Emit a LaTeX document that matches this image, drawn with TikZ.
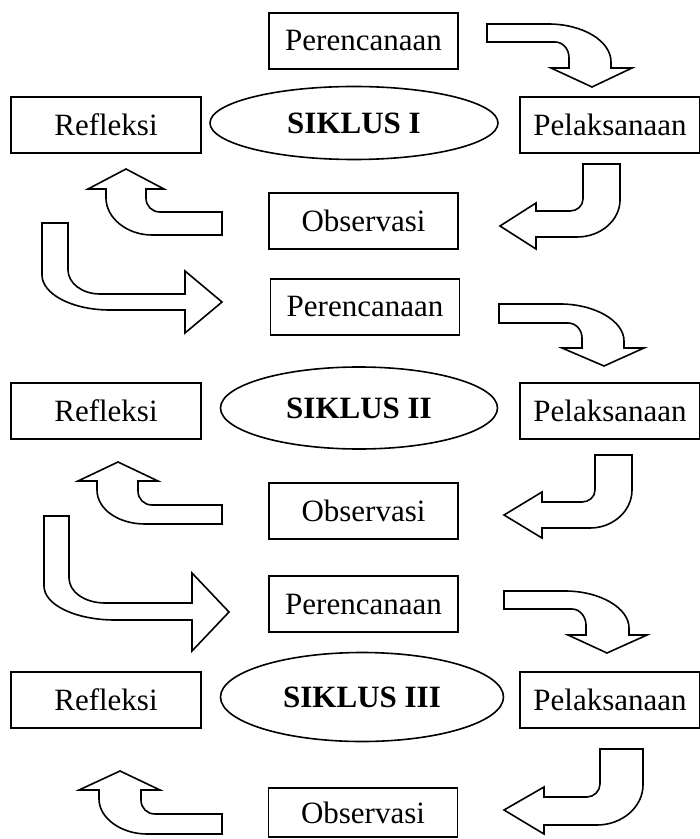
\documentclass[tikz,border=0pt]{standalone}
\usepackage{fontspec}
\setmainfont{Liberation Serif}
\usetikzlibrary{
    shapes.geometric,
}

\begin{document}
\begin{tikzpicture}[
    x=0.5pt, y=-0.5pt,
    font=\fontsize{15.5pt}{18pt}\selectfont,
    box/.style={draw, thick, align=center, minimum width=94.5pt, minimum height=28pt, inner sep=0pt},
    siklus/.style={draw, thick, ellipse, font=\fontsize{15.5pt}{18pt}\selectfont\bfseries, inner sep=0pt},
    blockarrow/.style={draw, thick, fill=white},
]

\useasboundingbox (0,0) rectangle (700,839);

\node[box] (plan1) at (363.5,41) {Perencanaan};
\node[box, minimum width=95pt] (refl1) at (106,125) {Refleksi};
\node[siklus, minimum width=144pt, minimum height=36.5pt] (siklus1) at (354,123) {SIKLUS I};
\node[box, minimum width=90pt] (pelak1) at (610,125) {Pelaksanaan};
\node[box] (obs1) at (363.5,221) {Observasi};

\node[box] (plan2) at (365,307) {Perencanaan};
\node[box, minimum width=95pt] (refl2) at (106,411) {Refleksi};
\node[siklus, minimum width=138.5pt, minimum height=41pt] (siklus2) at (359,408) {SIKLUS II};
\node[box, minimum width=90pt] (pelak2) at (610,411) {Pelaksanaan};
\node[box] (obs2) at (363.5,511) {Observasi};

\node[box] (plan3) at (363.5,604) {Perencanaan};
\node[box, minimum width=95pt] (refl3) at (106,700) {Refleksi};
\node[siklus, minimum width=141.5pt, minimum height=44.5pt] (siklus3) at (362,697) {SIKLUS III};
\node[box, minimum width=90pt] (pelak3) at (610,700) {Pelaksanaan};
\node[box, minimum height=24.5pt] (obs3) at (363,812.5) {Observasi};

% siklus I
\draw[blockarrow] (487,24) -- (548,24) .. controls (583,24) and (611,41) .. (611,62) -- (611,68) -- (632,68) -- (592,87) -- (551,68) -- (569,68) -- (569,58) .. controls (569,49) and (563,42) .. (555,42) -- (487,42) -- cycle;
\draw[blockarrow] (583,164) -- (620,164) -- (620,200) .. controls (620,220) and (601,237) .. (577,237) -- (536,237) -- (536,249) -- (500,226) -- (536,203) -- (536,211) -- (570,211) .. controls (577,211) and (583,206) .. (583,199) -- cycle;
\draw[blockarrow] (222,212) -- (160,212) .. controls (152,212) and (146,206) .. (146,198) -- (146,189) -- (164,189) -- (126,169) -- (88,189) -- (106,189) -- (106,198) .. controls (106,218) and (127,235) .. (152,235) -- (222,235) -- cycle;
\draw[blockarrow] (42,223) -- (68,223) -- (68,270) .. controls (68,283) and (82,294) .. (100,294) -- (185,294) -- (185,271) -- (222,302) -- (185,333) -- (185,310) -- (110,310) .. controls (72,310) and (42,294) .. (42,275) -- cycle;

% siklus II
\draw[blockarrow] (499,304) -- (560,304) .. controls (595,304) and (624,321) .. (624,341) -- (624,348) -- (644,348) -- (604,366) -- (562,348) -- (582,348) -- (582,338) .. controls (582,330) and (576,323) .. (568,323) -- (499,323) -- cycle;
\draw[blockarrow] (595,455) -- (632,455) -- (632,490) .. controls (632,511) and (613,528) .. (590,528) -- (542,528) -- (542,538) -- (504,515) -- (542,492) -- (542,502) -- (582,502) .. controls (589,502) and (595,497) .. (595,490) -- cycle;
\draw[blockarrow] (222,505) -- (152,505) .. controls (144,505) and (138,499) .. (138,491) -- (138,481) -- (158,481) -- (118,462) -- (78,481) -- (97,481) -- (97,490) .. controls (97,509) and (118,524) .. (145,524) -- (222,524) -- cycle;
\draw[blockarrow] (44,516) -- (69,516) -- (69,578) .. controls (69,592) and (85,603) .. (105,603) -- (192,603) -- (192,573) -- (229,612) -- (192,651) -- (192,620) -- (115,620) .. controls (76,620) and (44,605) .. (44,586) -- cycle;

% siklus III
\draw[blockarrow] (504,591) -- (565,591) .. controls (600,591) and (629,608) .. (629,628) -- (629,635) -- (647,635) -- (607,653) -- (568,635) -- (586,635) -- (586,625) .. controls (586,617) and (580,609) .. (572,609) -- (504,609) -- cycle;
\draw[blockarrow] (600,749) -- (643,749) -- (643,785) .. controls (643,807) and (622,825) .. (597,825) -- (544,825) -- (544,834) -- (504,810) -- (544,787) -- (544,797) -- (587,797) .. controls (594,797) and (600,791) .. (600,784) -- cycle;
\draw[blockarrow] (222,814) -- (155,814) .. controls (147,814) and (141,808) .. (141,800) -- (141,790) -- (160,790) -- (120,771) -- (79,790) -- (99,790) -- (99,799) .. controls (99,818) and (121,834) .. (147,834) -- (222,834) -- cycle;

\end{tikzpicture}
\end{document}
